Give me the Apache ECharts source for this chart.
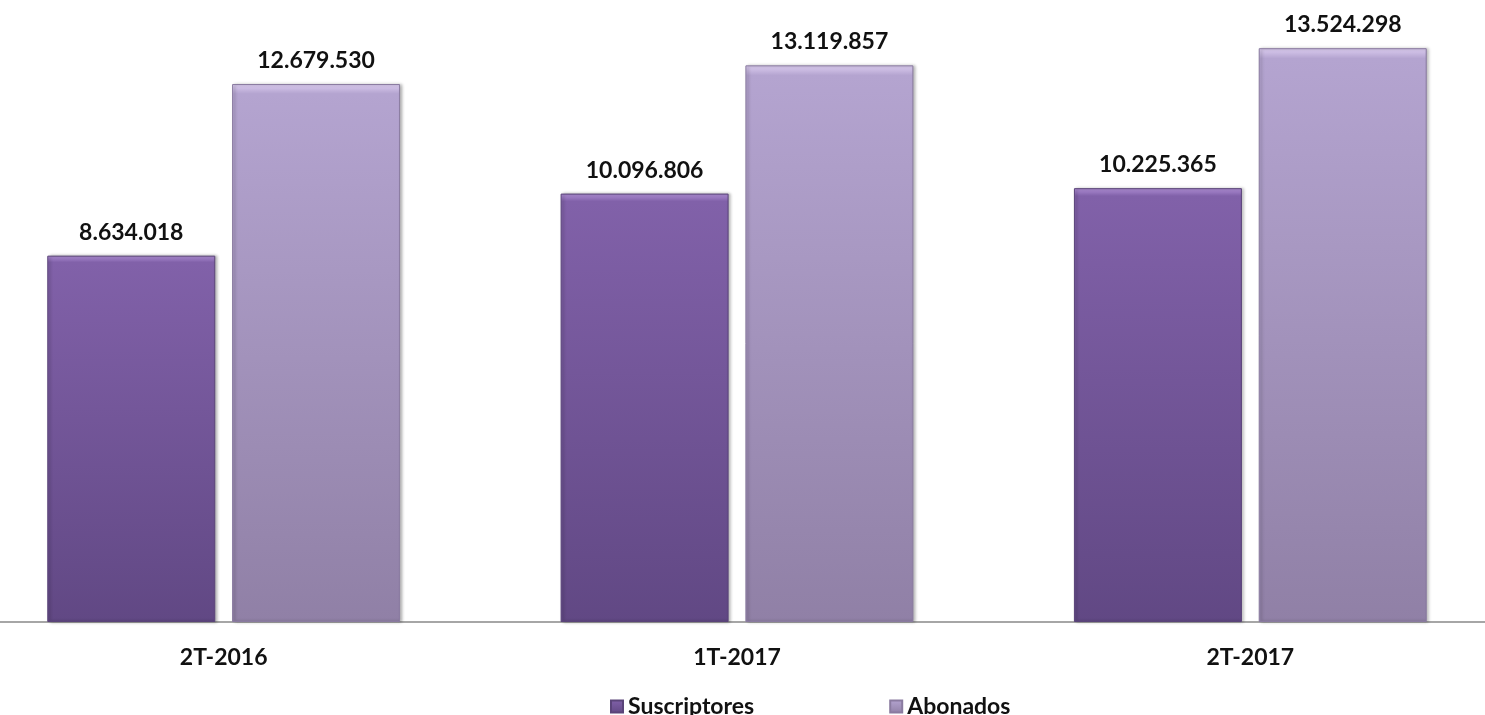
<!DOCTYPE html>
<html>
<head>
<meta charset="utf-8">
<script src="https://cdn.jsdelivr.net/npm/echarts@6/dist/echarts.min.js"></script>
<style>html,body{margin:0;padding:0;background:#fff}#c{width:1485px;height:715px}</style>
</head>
<body>
<div id="c"></div>
<script>
const categories = ['2T-2016', '1T-2017', '2T-2017'];
const suscriptores = [8634018, 10096806, 10225365];
const abonados = [12679530, 13119857, 13524298];
const seriesNames = ['Suscriptores', 'Abonados'];

function fmt(v) {
  return String(v).replace(/\B(?=(\d{3})+(?!\d))/g, '.');
}
const FONT = 'Lato, "Open Sans", sans-serif';

function grad(hi, top, bottom) {
  return new echarts.graphic.LinearGradient(0, 0, 0, 1, [
    {offset: 0, color: hi},
    {offset: 0.018, color: top},
    {offset: 1, color: bottom}
  ]);
}

const chart = echarts.init(document.getElementById('c'));
chart.setOption({
  animation: false,
  backgroundColor: '#ffffff',
  grid: {left: -33, right: -22, top: 28, bottom: 93, containLabel: false, outerBoundsMode: 'none'},
  legend: {
    bottom: -8, left: 605,
    itemWidth: 12, itemHeight: 12, itemGap: 135,
    icon: 'rect',
    textStyle: {fontFamily: FONT, fontWeight: 'bold', fontSize: 23, color: '#111'},
    data: seriesNames
  },
  xAxis: {
    type: 'category',
    data: categories,
    axisLine: {lineStyle: {color: '#a6a6a6', width: 2}},
    axisTick: {show: false},
    axisLabel: {margin: 24, fontFamily: FONT, fontWeight: 'bold', fontSize: 23, color: '#111'}
  },
  yAxis: {
    type: 'value', min: 0, max: 14000000,
    show: false, splitLine: {show: false}
  },
  series: [
    {
      name: seriesNames[0], type: 'bar', data: suscriptores,
      barWidth: 168, barGap: '10%',
      itemStyle: {
        color: grad('#b08fd6', '#8161a9', '#614884'),
        borderColor: '#5a4479', borderWidth: 1,
        shadowColor: 'rgba(0,0,0,0.3)', shadowBlur: 3, shadowOffsetX: 2
      },
      label: {show: true, position: 'top', distance: 12, formatter: p => fmt(p.value),
        fontFamily: FONT, fontWeight: 'bold', fontSize: 23, color: '#111'}
    },
    {
      name: seriesNames[1], type: 'bar', data: abonados,
      barWidth: 168,
      itemStyle: {
        color: grad('#dccdf0', '#b4a4d0', '#9080a6'),
        borderColor: '#8a7ba0', borderWidth: 1,
        shadowColor: 'rgba(0,0,0,0.3)', shadowBlur: 3, shadowOffsetX: 2
      },
      label: {show: true, position: 'top', distance: 12, formatter: p => fmt(p.value),
        fontFamily: FONT, fontWeight: 'bold', fontSize: 23, color: '#111'}
    }
  ]
});
</script>
</body>
</html>
